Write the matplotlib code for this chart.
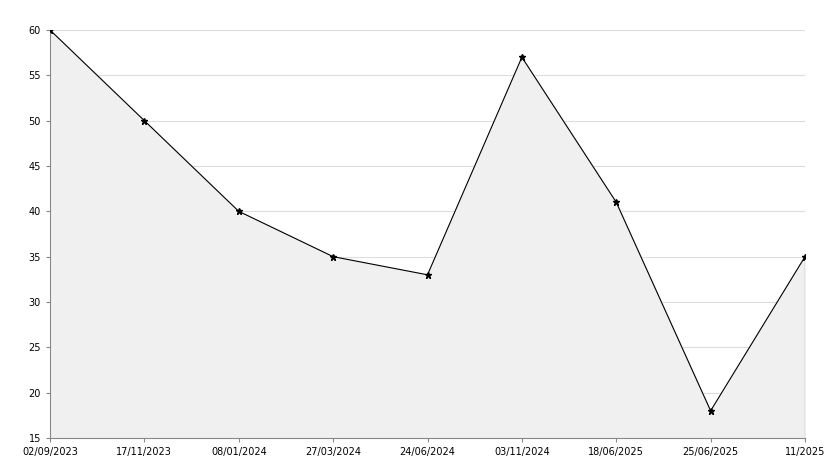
import matplotlib
matplotlib.use("Agg")
import matplotlib.pyplot as plt

dates = ["02/09/2023", "17/11/2023", "08/01/2024", "27/03/2024", "24/06/2024",
         "03/11/2024", "18/06/2025", "25/06/2025", "11/2025"]
values = [60, 50, 40, 35, 33, 57, 41, 18, 35]
x = list(range(len(dates)))

fig = plt.figure(figsize=(8.34, 4.68), dpi=100)
ax = fig.add_axes([50 / 834, 30 / 468, 755 / 834, 408 / 468])

ax.fill_between(x, values, 15, color="#f0f0f0", zorder=1)
ax.plot(x, values, color="black", linewidth=0.8, marker="*", markersize=5, zorder=3)
ax.vlines(x[-1], 15, values[-1], color="black", linewidth=0.8, zorder=3)

ax.set_xlim(0, len(dates) - 1)
ax.set_ylim(15, 60)
ax.set_xticks(x)
ax.set_xticklabels(dates)
ax.set_yticks(range(15, 61, 5))
ax.tick_params(labelsize=7, length=3, color="#888888")
ax.yaxis.grid(True, color="#dddddd", linewidth=0.8)
ax.set_axisbelow(True)
for s in ["top", "right"]:
    ax.spines[s].set_visible(False)
for s in ["left", "bottom"]:
    ax.spines[s].set_color("#888888")

fig.savefig("out.png", dpi=100)
